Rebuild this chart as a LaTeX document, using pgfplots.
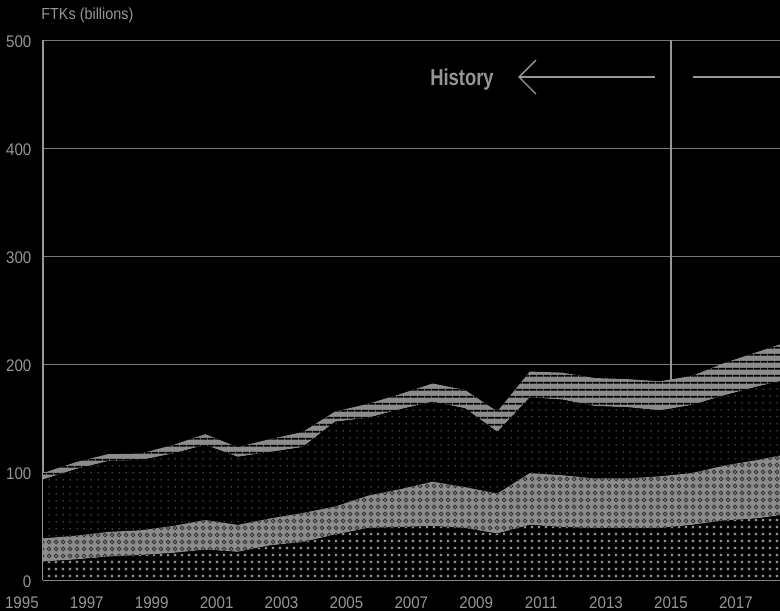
\documentclass[border=0pt]{standalone}
\usepackage{pgfplots}
\pgfplotsset{compat=1.18}
\usepackage{pgfplotstable}
\usepackage{fontspec}
\setmainfont[FakeStretch=0.9]{Liberation Sans}
\newfontfamily\condfont[FakeStretch=0.8]{Liberation Sans}
\usetikzlibrary{patterns,arrows.meta,backgrounds}

\definecolor{fillgrey}{RGB}{140,140,140}
\definecolor{textgrey}{RGB}{150,150,150}
\definecolor{gridgrey}{RGB}{120,120,120}
\definecolor{markdark}{RGB}{55,55,55}

% small x marks on a grid
\pgfdeclarepatternformonly{xgrid}{\pgfqpoint{0pt}{0pt}}{\pgfqpoint{3.25pt}{3.25pt}}{\pgfqpoint{3.25pt}{3.25pt}}{%
  \pgfsetlinewidth{0.5pt}%
  \pgfpathmoveto{\pgfqpoint{1.0pt}{1.0pt}}\pgfpathlineto{\pgfqpoint{2.2pt}{2.2pt}}%
  \pgfpathmoveto{\pgfqpoint{1.0pt}{2.2pt}}\pgfpathlineto{\pgfqpoint{2.2pt}{1.0pt}}%
  \pgfusepath{stroke}}
% rings with a centre dot
\pgfdeclarepatternformonly{ringgrid}{\pgfqpoint{0pt}{0pt}}{\pgfqpoint{3.25pt}{3.25pt}}{\pgfqpoint{3.25pt}{3.25pt}}{%
  \pgfsetlinewidth{0.45pt}%
  \pgfpathcircle{\pgfqpoint{1.625pt}{1.625pt}}{1.05pt}%
  \pgfusepath{stroke}%
  \pgfpathcircle{\pgfqpoint{1.625pt}{1.625pt}}{0.35pt}%
  \pgfusepath{fill}}
% small square dots
\pgfdeclarepatternformonly{dotgrid}{\pgfqpoint{0pt}{0pt}}{\pgfqpoint{3.3pt}{3.3pt}}{\pgfqpoint{3.3pt}{3.3pt}}{%
  \pgfpathrectangle{\pgfqpoint{1.35pt}{1.35pt}}{\pgfqpoint{0.6pt}{0.6pt}}%
  \pgfusepath{fill}}
% horizontal stripes
\pgfdeclarepatternformonly{hstripes}{\pgfqpoint{0pt}{0pt}}{\pgfqpoint{3.35pt}{3.35pt}}{\pgfqpoint{3.35pt}{3.35pt}}{%
  \pgfpathrectangle{\pgfqpoint{0pt}{1.2pt}}{\pgfqpoint{3.35pt}{0.9pt}}%
  \pgfusepath{fill}}

% FTKs (billions), stacked layers
\pgfplotstableread{
year a    b    c    d
1995 17   21.5 54.5 6
1996 19   22   61.5 6.5
1997 21.5 23   65.5 6.5
1998 23   23   65   6
1999 25   25   67   8
2000 28   27.5 69.5 10
2001 26   25   63   9
2002 32   25   61.5 12
2003 35   27   61   14
2004 42   26   78.5 9.5
2005 48   30   72   13
2006 49   35   74   14
2007 50   41   74   17
2008 48   38   73   17
2009 43   37   57   19
2010 51   48   70   24
2011 49   48   70   25
2012 48   46   67   26
2013 48   46   66   26
2014 48   48   61   27
2015 51   48   63   27
2016 55   51   65   30
2017 57   54   68   32
2018 61   56   69   35
}\data

\begin{document}
\begin{tikzpicture}
\begin{axis}[
    scale only axis,
    width=368.5pt, height=270pt,
    xmin=1995, xmax=2017.71,
    ymin=0, ymax=500,
    stack plots=y,
    clip mode=individual,
    axis x line*=bottom, axis y line*=left,
    axis line style={textgrey, line width=0.6pt},
    ytick={0,100,200,300,400,500},
    xtick={1996.35,1998.35,2000.35,2002.35,2004.35,2006.35,2008.35,2010.35,2012.35,2014.35,2016.35},
    xticklabels={1997,1999,2001,2003,2005,2007,2009,2011,2013,2015,2017},
    ymajorgrids,
    grid style={gridgrey, line width=0.5pt},
    major tick length=0pt,
    tick label style={font=\fontsize{8.4}{9}\selectfont, text=textgrey},
    xticklabel style={inner sep=0pt, yshift=-8.4pt},
    yticklabel style={xshift=-2.3pt, yshift=-1pt},
    /pgf/number format/assume math mode=true,
    /pgf/number format/1000 sep={},
]
\addplot[draw=none, fill=black, postaction={pattern=xgrid, pattern color=fillgrey}]
    table[x=year, y=a] {\data} \closedcycle;
\addplot[draw=none, fill=fillgrey, postaction={pattern=ringgrid, pattern color=markdark}]
    table[x=year, y=b] {\data} \closedcycle;
\addplot[draw=none, fill=black, postaction={pattern=dotgrid, pattern color=fillgrey}]
    table[x=year, y=c] {\data} \closedcycle;
\addplot[draw=none, fill=fillgrey, postaction={pattern=hstripes, pattern color=black}]
    table[x=year, y=d] {\data} \closedcycle;

% axis lines again, above the areas
\draw[textgrey, line width=0.6pt] (rel axis cs:0,0) -- (rel axis cs:0,1);
\draw[textgrey, line width=0.6pt] (rel axis cs:0,0) -- (rel axis cs:1,0);
% 2015 divider
\draw[textgrey, line width=1pt] (axis cs:2014.35,0) -- (axis cs:2014.35,500);
% history arrow
\draw[textgrey, line width=0.65pt, -{Straight Barb[length=8.5pt,width=17pt,line width=0.65pt]}]
    (axis cs:2013.86,465.7) -- (axis cs:2009.64,465.7);
\draw[textgrey, line width=0.65pt] (axis cs:2015.03,465.7) -- (axis cs:2017.71,465.7);
\node[anchor=base, inner sep=0pt, text=textgrey, font=\condfont\bfseries\fontsize{11.5}{12}\selectfont]
    at (axis cs:2007.91,457.9) {History};
% first year label, left of the axis start
\node[anchor=north, inner sep=0pt, yshift=-8.4pt, text=textgrey, font=\fontsize{8.4}{9}\selectfont]
    at (axis cs:1994.35,0) {1995};
% unit label
\node[anchor=west, inner sep=0pt, xshift=-1pt, yshift=12.5pt, text=textgrey, font=\fontsize{8}{9}\selectfont]
    at (rel axis cs:0,1) {FTKs (billions)};
\coordinate (bl) at (rel axis cs:0,0);
\coordinate (tr) at (rel axis cs:1,1);
\end{axis}
\pgfresetboundingbox
\path[use as bounding box] ([xshift=-21.5pt,yshift=-15.5pt]bl) rectangle ([yshift=20pt]tr);
\begin{scope}[on background layer]
\fill[black] ([xshift=-21.5pt,yshift=-15.5pt]bl) rectangle ([yshift=20pt]tr);
\end{scope}
\end{tikzpicture}
\end{document}
